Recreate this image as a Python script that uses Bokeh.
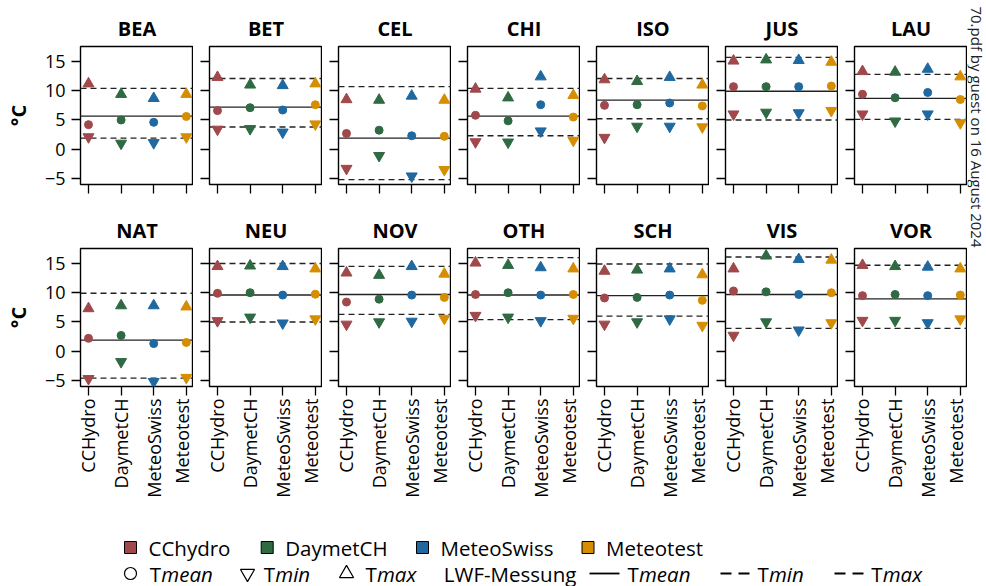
import math
from bokeh.plotting import figure
from bokeh.layouts import row, column
from bokeh.models import Range1d, FixedTicker, Span, ColumnDataSource
from bokeh.core.properties import value
from bokeh.embed import file_html
from bokeh.resources import INLINE

FONT = "Open Sans"

# ---------------- data ----------------
stations = ["BEA", "BET", "CEL", "CHI", "ISO", "JUS", "LAU",
            "NAT", "NEU", "NOV", "OTH", "SCH", "VIS", "VOR"]
products = ["CCHydro", "DaymetCH", "MeteoSwiss", "Meteotest"]
legend_names = ["CChydro", "DaymetCH", "MeteoSwiss", "Meteotest"]
colors = ["#A0484B", "#2F6A43", "#1F68A0", "#D68E00"]

# gridded products, one row per station, columns = products
tmean = [
    [4.2, 5.0, 4.6, 5.6],      # BEA
    [6.6, 7.1, 6.7, 7.6],      # BET
    [2.7, 3.25, 2.3, 2.2],     # CEL
    [5.8, 4.85, 7.6, 5.5],     # CHI
    [7.5, 7.6, 7.9, 7.4],      # ISO
    [10.7, 10.7, 10.7, 10.8],  # JUS
    [9.4, 8.8, 9.7, 8.5],      # LAU
    [2.2, 2.7, 1.3, 1.5],      # NAT
    [9.9, 10.0, 9.6, 9.75],    # NEU
    [8.4, 8.9, 9.6, 9.2],      # NOV
    [9.7, 10.0, 9.6, 9.7],     # OTH
    [9.1, 9.2, 9.6, 8.7],      # SCH
    [10.3, 10.15, 9.7, 10.0],  # VIS
    [9.5, 9.7, 9.5, 9.6],      # VOR
]
tmin = [
    [2.1, 1.0, 1.1, 2.1],
    [3.4, 3.5, 2.9, 4.3],
    [-3.3, -1.1, -4.6, -3.5],
    [1.25, 1.2, 3.1, 1.5],
    [2.0, 3.9, 3.9, 3.8],
    [6.0, 6.3, 6.2, 6.6],
    [6.0, 4.8, 6.0, 4.5],
    [-4.7, -1.8, -5.2, -4.5],
    [5.2, 5.8, 4.8, 5.5],
    [4.6, 5.0, 5.1, 5.6],
    [6.1, 5.8, 5.2, 5.6],
    [4.6, 5.0, 5.5, 4.4],
    [2.7, 5.0, 3.6, 4.85],
    [5.25, 5.25, 4.85, 5.5],
]
tmax = [
    [11.2, 9.4, 8.7, 9.4],
    [12.3, 11.0, 10.9, 11.2],
    [8.5, 8.4, 9.1, 8.4],
    [10.3, 8.8, 12.4, 9.2],
    [11.9, 11.6, 12.3, 11.0],
    [15.1, 15.3, 15.2, 14.9],
    [13.3, 13.2, 13.7, 12.4],
    [7.3, 7.8, 7.8, 7.6],
    [14.5, 14.6, 14.5, 14.1],
    [13.4, 13.0, 14.5, 13.2],
    [15.1, 14.7, 14.3, 14.1],
    [13.7, 13.9, 14.1, 13.1],
    [14.1, 16.3, 15.7, 15.6],
    [14.7, 14.5, 14.4, 14.1],
]
# LWF station measurements (horizontal reference lines)
lwf_mean = [5.65, 7.2, 1.9, 5.65, 8.4, 9.9, 8.7, 1.9, 9.6, 9.7, 9.6, 9.5, 9.7, 8.95]
lwf_min = [1.9, 3.8, -5.2, 2.3, 5.2, 5.0, 5.1, -4.6, 5.0, 6.3, 5.4, 6.0, 3.9, 3.9]
lwf_max = [10.4, 12.1, 10.7, 10.4, 12.1, 15.7, 12.8, 9.9, 15.0, 14.5, 16.0, 14.9, 16.1, 14.7]

y_ticks = [-5, 0, 5, 10, 15]
y_tick_labels = ["\u22125", "0", "5", "10", "15"]

NCOL = 7
LINE_COLOR = "#222222"


def hide_labels(axis):
    axis.major_label_text_font_size = "0px"
    axis.major_label_text_color = None
    axis.major_label_standoff = 0


def make_panel(i):
    col = i % NCOL
    bottom = i >= NCOL
    xs = list(range(1, len(products) + 1))
    p = figure(frame_width=113, frame_height=138,
               x_range=Range1d(0.755, 4.22), y_range=Range1d(-6.03, 17.56),
               min_border_left=80 if col == 0 else 16, min_border_right=0,
               min_border_top=46, min_border_bottom=115 if bottom else 18,
               title=stations[i], toolbar_location=None, output_backend="svg")
    p.title.align = "center"
    p.title.text_font = FONT
    p.title.text_font_size = "20px"
    p.title.text_font_style = "bold"
    p.title.text_color = "black"
    p.title.standoff = 9
    p.grid.visible = False
    p.outline_line_color = "black"
    p.outline_line_width = 1.4
    p.outline_line_alpha = 1.0

    p.xaxis.ticker = FixedTicker(ticks=xs)
    p.yaxis.ticker = FixedTicker(ticks=y_ticks)
    for ax in p.axis:
        ax.axis_line_color = None
        ax.major_tick_out = 9
        ax.major_tick_in = 0
        ax.major_tick_line_color = "black"
        ax.major_tick_line_width = 1.3
        ax.minor_tick_line_color = None
        ax.major_label_text_font = FONT
        ax.major_label_text_font_size = "18px"
        ax.major_label_text_color = "black"

    if bottom:
        p.xaxis.major_label_overrides = {x: name for x, name in zip(xs, products)}
        p.xaxis.major_label_orientation = math.pi / 2
        p.xaxis.major_label_standoff = 3
    else:
        hide_labels(p.xaxis[0])

    if col == 0:
        p.yaxis.major_label_overrides = dict(zip(y_ticks, y_tick_labels))
        p.yaxis.major_label_standoff = 6
        p.yaxis.axis_label = "\u00b0C"
        p.yaxis.axis_label_text_font = FONT
        p.yaxis.axis_label_text_font_size = "20px"
        p.yaxis.axis_label_text_font_style = "bold"
        p.yaxis.axis_label_text_color = "black"
        p.yaxis.axis_label_standoff = 10
    else:
        hide_labels(p.yaxis[0])

    for loc, dash in [(lwf_mean[i], "solid"), (lwf_min[i], "6 4"), (lwf_max[i], "6 4")]:
        p.add_layout(Span(location=loc, dimension="width", line_color=LINE_COLOR,
                          line_width=1.4, line_dash=dash, level="underlay"))

    src = ColumnDataSource(dict(x=xs, tmean=tmean[i], tmin=tmin[i], tmax=tmax[i], color=colors))
    p.scatter("x", "tmax", source=src, marker="triangle", size=11,
              fill_color="color", line_color="color")
    p.scatter("x", "tmin", source=src, marker="inverted_triangle", size=11,
              fill_color="color", line_color="color")
    p.scatter("x", "tmean", source=src, marker="circle", size=8,
              fill_color="color", line_color="color")
    return p


panels = [make_panel(i) for i in range(len(stations))]
top_row = row(*panels[:NCOL], spacing=0)
bottom_row = row(*panels[NCOL:], spacing=0)

# ---------------- legend ----------------
LW, LH = 967, 85
leg = figure(width=LW, height=LH, x_range=Range1d(0, LW), y_range=Range1d(LH, 0),
             min_border=0, x_axis_type=None, y_axis_type=None,
             toolbar_location=None, output_backend="svg", outline_line_color=None)
leg.grid.visible = False
row1_y, row2_y = 46, 72
sq_x = [130, 266.7, 422, 587.5]
leg.scatter(x=sq_x, y=[row1_y] * 4, marker="square", size=12,
            fill_color=colors, line_color="black", line_width=1)
leg.text(x=[v + 18 for v in sq_x], y=[row1_y] * 4, text=legend_names,
         text_baseline="middle", text_align="left", text_font=value(FONT),
         text_font_size="20.5px", text_color="black")

leg.scatter(x=[130], y=[row2_y], marker="circle", size=12, fill_color=None,
            line_color="black", line_width=1.2)
leg.scatter(x=[247], y=[row2_y], marker="inverted_triangle", size=14, fill_color=None,
            line_color="black", line_width=1.2)
leg.scatter(x=[346], y=[row2_y], marker="triangle", size=14, fill_color=None,
            line_color="black", line_width=1.2)
t_x = [149.3, 263.3, 365, 627, 757, 870.7]
words = ["mean", "min", "max", "mean", "min", "max"]
leg.text(x=t_x, y=[row2_y] * 6, text=["T"] * 6, text_baseline="middle",
         text_font=value(FONT), text_font_size="20.5px", text_color="black")
leg.text(x=[v + 11.5 for v in t_x], y=[row2_y] * 6, text=words, text_baseline="middle",
         text_font=value(FONT), text_font_size="20.5px", text_font_style="italic",
         text_color="black")
leg.text(x=[443.3], y=[row2_y], text=["LWF-Messung"], text_baseline="middle",
         text_font=value(FONT), text_font_size="20.5px", text_color="black")
leg.segment(x0=[589], x1=[619], y0=[row2_y], y1=[row2_y], line_color="black", line_width=1.8)
leg.segment(x0=[720, 834], x1=[750, 864], y0=[row2_y] * 2, y1=[row2_y] * 2,
            line_color="black", line_width=1.8, line_dash="11 7")

# ---------------- watermark ----------------
WW, WH = 19, 250
wm = figure(width=WW, height=WH, x_range=Range1d(0, WW), y_range=Range1d(WH, 0),
            min_border=0, x_axis_type=None, y_axis_type=None,
            toolbar_location=None, output_backend="svg", outline_line_color=None)
wm.grid.visible = False
wm.text(x=[9.5], y=[247], text=["70.pdf by guest on 16 August 2024"], angle=-math.pi / 2,
        text_align="right", text_baseline="middle", text_font=value(FONT),
        text_font_size="15px", text_color="#222222")

layout = row(column(top_row, bottom_row, leg, spacing=0), wm, spacing=0)

open("out.html", "w").write(file_html(layout, INLINE))
